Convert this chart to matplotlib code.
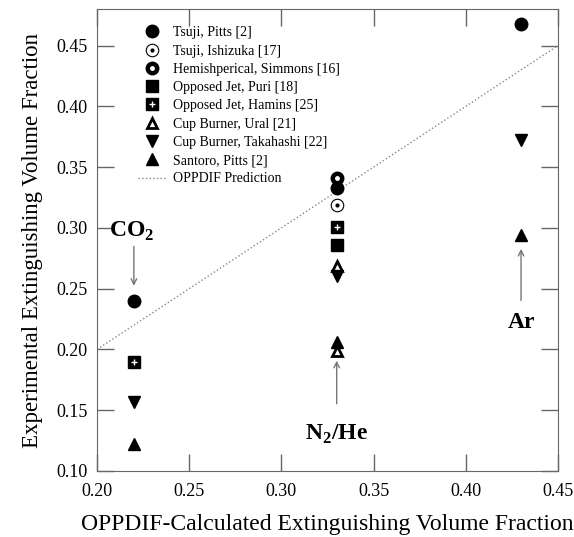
import matplotlib
matplotlib.use("Agg")
import matplotlib.pyplot as plt
from matplotlib.lines import Line2D

plt.rcParams['font.family'] = ['Liberation Serif', 'DejaVu Serif']
plt.rcParams['mathtext.fontset'] = 'custom'
plt.rcParams['mathtext.rm'] = 'Liberation Serif'
plt.rcParams['mathtext.bf'] = 'Liberation Serif:bold'

# calculated extinguishing fraction per agent (CO2, N2/He, Ar)
x_co2, x_n2, x_ar = 0.22, 0.33, 0.43

tsuji_pitts_x = [x_co2, x_n2, x_ar]
tsuji_pitts_y = [0.240, 0.333, 0.468]
ishizuka_x = [x_n2]
ishizuka_y = [0.319]
simmons_x = [x_n2]
simmons_y = [0.341]
puri_x = [x_n2]
puri_y = [0.286]
hamins_x = [x_co2, x_n2]
hamins_y = [0.190, 0.301]
ural_x = [x_n2, x_n2]
ural_y = [0.269, 0.199]
takahashi_x = [x_co2, x_n2, x_ar]
takahashi_y = [0.157, 0.260, 0.372]
santoro_x = [x_co2, x_n2, x_ar]
santoro_y = [0.122, 0.206, 0.294]
pred_x = [0.20, 0.45]
pred_y = [0.20, 0.45]

labels = ['Tsuji, Pitts [2]', 'Tsuji, Ishizuka [17]', 'Hemishperical, Simmons [16]',
          'Opposed Jet, Puri [18]', 'Opposed Jet, Hamins [25]', 'Cup Burner, Ural [21]',
          'Cup Burner, Takahashi [22]', 'Santoro, Pitts [2]', 'OPPDIF Prediction']

fig = plt.figure(figsize=(5.74, 5.37), dpi=100)
ax = fig.add_axes([0.169, 0.123, 0.803, 0.860])

k = 'black'
ms = 9
ax.plot(pred_x, pred_y, ls=':', color='#888888', lw=1.0)
ax.plot(tsuji_pitts_x, tsuji_pitts_y, 'o', color=k, ms=ms, ls='none')
ax.plot(ishizuka_x, ishizuka_y, 'o', mfc='white', mec=k, mew=0.8, ms=ms, ls='none')
ax.plot(ishizuka_x, ishizuka_y, 'o', color=k, ms=2, ls='none')
ax.plot(simmons_x, simmons_y, 'o', color=k, ms=ms, ls='none')
ax.plot(simmons_x, simmons_y, 'o', color='white', ms=2.5, ls='none')
ax.plot(puri_x, puri_y, 's', color=k, ms=8, ls='none')
ax.plot(hamins_x, hamins_y, 's', color=k, ms=8, ls='none')
ax.plot(hamins_x, hamins_y, '+', color='white', ms=4, mew=1, ls='none')
ax.plot(ural_x, ural_y, '^', mfc='white', mec=k, mew=2, ms=7.5, ls='none')
ax.plot(takahashi_x, takahashi_y, 'v', color=k, ms=ms, ls='none')
ax.plot(santoro_x, santoro_y, '^', color=k, ms=ms, ls='none')

# annotations with arrows
arrow = dict(arrowstyle='->', color='#777777', lw=1.0)
ax.annotate('', xy=(x_co2, 0.250), xytext=(x_co2, 0.287), arrowprops=arrow)
ax.text(x_co2 - 0.001, 0.297, r'CO$_\mathbf{2}$', ha='center', va='center',
        fontsize=17, fontweight='bold')
ax.annotate('', xy=(x_n2, 0.193), xytext=(x_n2, 0.153), arrowprops=arrow)
ax.text(x_n2, 0.130, r'N$_\mathbf{2}$/He', ha='center', va='center',
        fontsize=17, fontweight='bold')
ax.annotate('', xy=(x_ar, 0.285), xytext=(x_ar, 0.238), arrowprops=arrow)
ax.text(x_ar, 0.222, 'Ar', ha='center', va='center', fontsize=17, fontweight='bold')

# legend
handles = [
    Line2D([], [], marker='o', color=k, ms=ms, ls='none'),
    (Line2D([], [], marker='o', mfc='white', mec=k, mew=0.8, ms=ms, ls='none'),
     Line2D([], [], marker='o', color=k, ms=2, ls='none')),
    (Line2D([], [], marker='o', color=k, ms=ms, ls='none'),
     Line2D([], [], marker='o', color='white', ms=2.5, ls='none')),
    Line2D([], [], marker='s', color=k, ms=8, ls='none'),
    (Line2D([], [], marker='s', color=k, ms=8, ls='none'),
     Line2D([], [], marker='+', color='white', ms=4, mew=1, ls='none')),
    Line2D([], [], marker='^', mfc='white', mec=k, mew=2, ms=7.5, ls='none'),
    Line2D([], [], marker='v', color=k, ms=ms, ls='none'),
    Line2D([], [], marker='^', color=k, ms=ms, ls='none'),
    Line2D([], [], ls=':', color='#888888', lw=1.0),
]
ax.legend(handles, labels, loc='upper left', bbox_to_anchor=(0.062, 0.99), frameon=False,
          fontsize=10, labelspacing=0.38, handlelength=2.0, handletextpad=0.5)

ax.set_xlim(0.20, 0.45)
ax.set_ylim(0.10, 0.48)
ax.set_xticks([0.20, 0.25, 0.30, 0.35, 0.40, 0.45])
ax.set_yticks([0.10, 0.15, 0.20, 0.25, 0.30, 0.35, 0.40, 0.45])
ax.set_xticklabels(['0.20', '0.25', '0.30', '0.35', '0.40', '0.45'])
ax.set_yticklabels(['0.10', '0.15', '0.20', '0.25', '0.30', '0.35', '0.40', '0.45'])
ax.tick_params(direction='in', length=12, width=1, color='#666666', labelsize=13,
               top=True, right=True, pad=7)
ax.tick_params(axis='x', pad=9)
for s in ax.spines.values():
    s.set_color('#666666')
ax.set_xlabel('OPPDIF-Calculated Extinguishing Volume Fraction', fontsize=17, labelpad=10)
ax.set_ylabel('Experimental Extinguishing Volume Fraction', fontsize=16.5, labelpad=9)

fig.savefig('out.png', dpi=100)
